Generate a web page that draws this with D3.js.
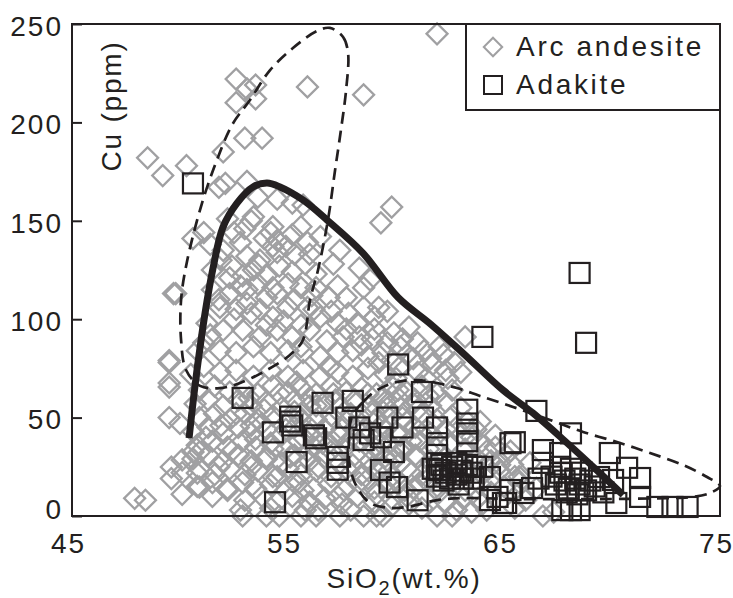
<!DOCTYPE html>
<html>
<head>
<meta charset="utf-8">
<script src="https://cdn.jsdelivr.net/npm/d3@7"></script>
<style>
  body { margin: 0; background: #fff; }
  text { font-family: "Liberation Sans", Arial, sans-serif; fill: #231f20; }
</style>
</head>
<body>
<div id="chart"></div>
<script>
// Axis ticks
const xTicks = [45, 55, 65, 75];
const yTicks = [0, 50, 100, 150, 200, 250];

// Arc andesite (SiO2, Cu)
const arcAndesite = [
  // sparse upper part
  [61.9,245],[52.6,222],[53.1,217],[53.5,219],[52.6,210],[53.5,212],[55.9,218],[58.5,214],
  [53.0,192],[53.8,192],[48.5,182],[49.2,173],[50.3,178],[52.0,185],[51.8,167],[52.1,169],
  [53.1,170],[53.6,162],[54.5,161],[55.2,159],[55.7,158],[53.3,150],[59.3,149],[59.8,157],
  [51.1,144],[50.6,141],[51.4,138],[52.5,144],[52.8,139],[53.4,152],[54.3,147],[54.2,144],
  [54.5,140],[54.3,137],[54.5,134],[55.6,147],[55.9,139],[56.5,142],[57.4,135],[58.3,126],
  [57.1,128],[53.1,132],[53.7,130],[53.4,125],[52.3,121],[51.9,130],[51.5,115],[52.3,113],
  [53.1,115],[53.6,118],[54.0,111],[54.5,113],[55.0,118],[55.6,116],[56.3,116],[56.9,111],
  [57.7,111],[58.5,116],[49.7,113],[58.8,120],[59.2,106],
  [51.5,125],[52.0,135],[52.4,127],[52.9,122],[53.6,128],[54.0,122],[54.6,127],[55.2,124],
  [55.8,128],[56.3,123],[55.3,133],[54.9,137],[53.9,141],[53.0,146],[52.2,151],[55.2,143],
  [56.0,133],[52.8,117],[54.3,116],[55.3,110],[56.1,112],[57.3,117],[51.8,110],
  // middle band
  [51.85,106],[52.6,105],[53.1,108],[53.7,105],[54.3,101],[55.0,106],[55.9,106],[56.5,101],
  [57.3,98],[58.2,98],[51.25,98],[52.0,94.5],[52.9,94.5],[53.7,91],[54.5,94.5],[55.2,91],
  [56.0,94.5],[56.8,89],[57.55,91],[58.3,91],[59.0,95],[59.6,88],[51.1,88],[51.85,84],
  [52.6,83],[53.4,86],[54.2,83],[55.0,84],[55.7,83],[56.5,81],[57.3,83],[58.0,84],
  [58.7,81],[59.4,83],[60.2,86],[60.8,80],[49.5,78],[49.5,67.6],[51.1,76],[51.85,73],
  [52.6,74],[53.4,71],[54.2,74],[55.0,71],[55.7,74],[56.5,71],[57.3,73],[58.0,71],
  [58.7,75],[59.5,72],[60.2,76],[61.0,73],[61.7,77],[62.3,74],[63.2,91],[62.0,86],
  [61.3,84],[59.0,101],[59.6,104],[60.3,90],[62.4,70],
  [52.5,100],[53.3,103],[54.0,97],[54.8,99],[55.6,97],[56.2,105],[57.0,104],[57.8,103],
  [58.5,106],[51.4,92],[50.8,84],[50.5,72],
  [59.8,79],[60.5,82],[61.0,88],[61.6,80],[62.2,82],[62.7,78],[63.0,73],[61.4,70],
  [60.0,70],[59.2,78],[58.4,87],[59.9,93],[60.6,96],[57.7,95],[58.9,90],
  // dense cloud
  [50.9,64],[51.6,66],[52.3,63],[53.0,65],[53.6,62],[54.3,66],[55.0,63],[55.6,65],[56.3,62],
  [57.0,66],[57.7,63],[58.4,65],[59.1,62],[59.8,66],[60.5,63],[61.2,66],[61.9,62],[62.6,64],
  [50.7,57],[51.3,59],[52.0,56],[52.7,59],[53.3,56],[54.0,58],[54.7,55],[55.3,59],[56.0,56],
  [56.7,58],[57.4,55],[58.1,59],[58.8,56],[59.5,58],[60.2,55],[60.9,59],[61.6,56],[62.3,58],[63.0,55],
  [50.9,50],[51.6,52],[52.3,49],[53.0,52],[53.6,49],[54.3,51],[55.0,48],[55.6,52],[56.3,49],
  [57.0,51],[57.7,48],[58.4,52],[59.1,49],[59.8,51],[60.5,48],[61.2,52],[61.9,49],[62.6,51],[63.3,48],
  [50.6,43],[51.3,45],[52.0,42],[52.7,45],[53.3,42],[54.0,44],[54.7,41],[55.3,45],[56.0,42],[56.7,44],
  [57.4,41],[58.1,45],[58.8,42],[59.5,44],[60.2,41],[60.9,45],[61.6,42],[62.3,44],[63.0,41],[63.7,44],
  [50.8,36],[51.5,38],[52.2,35],[52.9,38],[53.5,35],[54.2,37],[54.9,34],[55.5,38],[56.2,35],[56.9,37],
  [57.6,34],[58.3,38],[59.0,35],[59.7,37],[60.4,34],[61.1,38],[61.8,35],[62.5,37],[63.2,34],[63.9,37],[64.6,35],
  [50.6,29],[51.3,31],[52.0,28],[52.7,31],[53.3,28],[54.0,30],[54.7,27],[55.3,31],[56.0,28],[56.7,30],[57.4,27],
  [58.1,31],[58.8,28],[59.5,30],[60.2,27],[60.9,31],[61.6,28],[62.3,30],[63.0,27],[63.7,30],[64.4,28],[65.1,31],
  [50.1,22],[50.9,24],[51.6,21],[52.3,24],[53.0,21],[53.6,23],[54.3,20],[55.0,24],[55.6,21],[56.3,23],[57.0,20],[57.7,24],
  [58.4,21],[59.1,23],[59.8,20],[60.5,24],[61.2,21],[61.9,23],[62.6,20],[63.3,24],[64.0,21],[64.8,23],[65.5,20],
  [49.6,19],[50.8,15],[51.5,17],[52.2,14],[52.9,17],[53.5,14],[54.2,16],[54.9,13],[55.5,17],[56.2,14],[56.9,16],
  [57.6,13],[58.3,17],[59.0,14],[59.7,16],[60.4,13],[61.1,17],[61.8,14],[62.5,16],[63.2,13],[63.9,16],[65.7,17],
  [47.9,9],[48.4,8],[50.1,11],[51.5,10],[52.2,13],[53.0,8],[53.8,10],[54.5,7],[55.2,10],[56.0,7],
  [56.7,9],[57.5,6],[58.2,10],[59.0,7],[59.8,9],[60.6,6],[61.4,10],[62.3,7],[63.1,9],[64.0,6],
  [52.9,0],[54.0,0],[54.6,0],[55.6,0],[56.3,0],[57.4,0],[58.5,0],[59.1,0],[59.4,0],[61.9,0],
  [62.6,0],[66.8,0],[52.8,3],[55.8,3],[57.9,3],
  // left and right edges
  [49.6,24.9],[50.1,28.5],[50.6,32.5],[50.9,32.5],[50.8,21.8],[50.9,14.7],[49.5,50],[50.0,47],
  [49.5,65.5],[49.5,79],[49.8,113],
  [64.8,26],[65.3,33],[65.7,20],[66.2,27],[66.5,14],[67.3,2],[66.0,8],[64.4,12],[63.8,9],
  [62.8,45],[63.5,40],[64.2,33],[64.6,41],[63.9,48],[64.3,24],[65.0,15],[65.4,26],
  [62.8,3],[63.5,2],[64.2,3],[65.5,4],
  // extra density in the core
  [54.6,62],[55.3,53],[56.0,45],[56.6,37],[55.1,30],[56.4,25],[57.2,59],[57.9,52],[53.9,54],
  [53.3,46],[55.7,40],[57.0,33],[58.6,45],[59.3,37],[60.0,30],[60.7,22],[59.4,53],[60.1,60],
  [58.9,25],[61.5,34],[53.2,60],[54.0,29],[55.4,68],[56.9,76],[55.6,86],
  [58.7,62],[59.4,60],[60.1,64],[60.8,57],[61.5,61],[58.9,52],[59.6,55],[60.3,50],[61.0,54],
  [61.7,47],[58.6,40],[59.3,46],[60.0,42],[60.7,38],[61.4,44],[58.9,33],[59.6,28],[60.3,34],
  [61.0,30],[61.7,26],[58.7,19],[59.4,25],[60.1,18],[60.8,14],[61.5,19],[59.1,11],[59.8,5],
  [60.5,10],[61.2,4],[62.0,12],
  [52.6,52],[53.5,39],[51.9,46],[51.2,40],[52.4,33],[51.8,25],[53.3,25],[54.3,34],[55.9,33],
  [56.9,47],[57.8,38],[58.0,26],[57.3,10],[55.7,13],[54.2,4],[56.4,3],
  [54.9,44],[55.6,49],[56.3,56],[57.1,62],[53.8,47],[54.5,20],[55.3,17],[56.0,60],[57.5,44]
];

// Adakite (SiO2, Cu)
const adakite = [
  [50.6,169],[64.0,91],[60.1,77],[61.2,63],[56.6,57.5],[58.0,58.5],[63.3,54],[63.3,47],[63.3,42],
  [63.3,38],[57.7,50],[55.1,48],[55.1,50.5],[55.2,46],[56.2,41],[56.3,39.5],[61.25,50],[61.9,45],
  [59.6,50],[60.3,45],[58.3,45],[58.8,42],[59.3,40],[58.5,38.6],[59.9,32.5],[61.9,37],[61.9,31],
  [57.3,30],[57.3,27],[57.3,23.5],[55.4,27.4],[59.3,23.4],[59.7,17],[60.05,14.7],[61.0,8],[62.0,23.4],
  [52.9,60],[54.3,42.5],[54.4,7],[68.5,123.5],[68.8,88],[66.5,53.4],[65.5,37.5],[68.1,42],[66.8,33.5],
  [67.6,32],[69.9,32],[70.7,24.5],[71.3,19.3],[66.8,27],[67.6,25],[69.4,19.8],[70.05,18.3],[66.3,14.2],
  [65.9,11.7],[71.3,9.7],[72.1,4.6],[72.8,4.6],[73.5,4.6],[68.5,3],[68.1,3],[70.2,6.6],[65.3,13.2],
  [64.0,25],[64.35,19.8],[64.7,9.7],[65.1,6.6],[65.3,37],[62.8,27],[64.35,8.1],[64.95,6.6],[67.7,3],
  [61.7,24],[61.9,20],[62.1,26],[62.3,22],[62.5,19],[62.6,25],[62.8,21],[63.0,23],[63.1,19],[63.3,26],
  [63.5,22],[63.6,19],[63.7,25],[62.2,18],[62.9,16],
  [67.2,20],[67.4,16],[67.6,22],[67.8,18],[68.0,14],[68.1,24],[68.3,19],[68.5,16],[68.6,22],[68.8,13],
  [69.0,18],[69.2,15],[67.9,12],[68.4,11],[66.6,19],[69.6,12]
];

// Thick curve
const thickCurve = [
  [50.42,39.6],[50.6,57.4],[50.83,77.7],[51.16,103.1],[51.53,126],[51.99,146.8],[52.64,159],
  [53.38,167.2],[54.03,169.2],[54.63,167.2],[55.69,160.6],[56.81,150.4],[58.47,133.6],
  [60.1,111],[61.6,97.5],[63.1,82.8],[64.95,64],[66.34,52.3],[67.92,37.1],[69.44,21.8],[70.51,10.7]
];

// Dashed field outlines
const dashedUpper = [
  [56.94,248],[57.55,243.4],[57.78,235.3],[57.69,216.5],[57.45,196.1],[57.18,175.8],[56.85,150.4],
  [56.39,125],[56.02,109.8],[55.69,89.4],[55.09,81.8],[54.03,74.2],[52.78,67.6],[51.85,65],
  [50.93,66.1],[50.28,74.2],[50.05,89.4],[50.05,109.8],[50.32,129.1],[51.02,159],[51.71,180.9],
  [52.41,198.7],[53.24,211.4],[54.17,226.6],[55.23,237.8],[56.34,246.4]
];
const dashedLower = [
  [57.96,50.3],[58.47,57.9],[59.12,64],[60.05,68.1],[60.97,69.1],[61.9,67.6],[62.82,65],[63.89,61],
  [65.42,55.4],[67.13,48.8],[68.66,42.7],[70.23,37.6],[71.76,32],[73.29,25.9],[74.4,19.8],[75,15.2],
  [74.54,11.7],[73.75,9.7],[72.55,9.1],[69.44,8.6],[65.74,8.6],[63.1,9.1],[61.9,8.1],[60.51,4.6],
  [59.72,4.1],[58.8,6.6],[58.19,14.7],[57.87,24.9],[57.82,38.6]
];

const W = 733, H = 598;
const x0 = 72, x1 = 720, y0 = 24, y1 = 516;
const ink = '#231f20';
const gray = '#a0a0a2';

const svg = d3.select('#chart')
  .append('svg')
  .attr('width', W)
  .attr('height', H);

const xScale = d3.scaleLinear().domain([45, 75]).range([x0, x1]);
const yScale = d3.scaleLinear().domain([0, 250]).range([y1, y0]);

// Points: diamonds
svg.append('g')
  .selectAll('path')
  .data(arcAndesite)
  .enter()
  .append('path')
  .attr('d', d3.symbol().type(d3.symbolSquare).size(220))
  .attr('transform', d => `translate(${xScale(d[0])},${yScale(d[1])}) rotate(45)`)
  .attr('fill', 'none')
  .attr('stroke', gray)
  .attr('stroke-width', 2.3);

// Points: squares
svg.append('g')
  .selectAll('rect')
  .data(adakite)
  .enter()
  .append('rect')
  .attr('x', d => xScale(d[0]) - 10)
  .attr('y', d => yScale(d[1]) - 10)
  .attr('width', 20)
  .attr('height', 20)
  .attr('fill', 'none')
  .attr('stroke', ink)
  .attr('stroke-width', 2.2);

// Dashed outlines
const closedLine = d3.line()
  .x(d => xScale(d[0]))
  .y(d => yScale(d[1]))
  .curve(d3.curveCatmullRomClosed);

[dashedUpper, dashedLower].forEach(pts => {
  svg.append('path')
    .attr('d', closedLine(pts))
    .attr('fill', 'none')
    .attr('stroke', ink)
    .attr('stroke-width', 2.7)
    .attr('stroke-dasharray', '12,7');
});

// Thick line
svg.append('path')
  .attr('d', d3.line()
    .x(d => xScale(d[0]))
    .y(d => yScale(d[1]))
    .curve(d3.curveCatmullRom)(thickCurve))
  .attr('fill', 'none')
  .attr('stroke', ink)
  .attr('stroke-width', 7);

// Frame
svg.append('rect')
  .attr('x', x0)
  .attr('y', y0)
  .attr('width', x1 - x0)
  .attr('height', y1 - y0)
  .attr('fill', 'none')
  .attr('stroke', ink)
  .attr('stroke-width', 2);

// Y axis
const yAxis = svg.append('g')
  .attr('transform', `translate(${x0},0)`)
  .call(d3.axisLeft(yScale).tickValues(yTicks).tickSize(-10).tickPadding(9));
yAxis.select('.domain').remove();
yAxis.selectAll('line').attr('stroke', ink).attr('stroke-width', 2);
yAxis.selectAll('text')
  .style('font-size', '28px')
  .style('letter-spacing', '2px')
  .attr('fill', ink)
  .attr('dy', d => d === 0 ? '0.1em' : '0.4em');

// X axis
const xAxis = svg.append('g')
  .attr('transform', `translate(0,${y1})`)
  .call(d3.axisBottom(xScale).tickValues(xTicks).tickSize(0).tickPadding(17));
xAxis.select('.domain').remove();
xAxis.selectAll('text')
  .style('font-size', '28px')
  .style('letter-spacing', '2px')
  .attr('fill', ink)
  .attr('dx', -4);

// Axis titles
svg.append('text')
  .attr('transform', 'translate(121,106) rotate(-90)')
  .attr('text-anchor', 'middle')
  .style('font-size', '28px')
  .style('letter-spacing', '1.8px')
  .text('Cu (ppm)');

const xTitle = svg.append('text')
  .attr('x', 404)
  .attr('y', 588)
  .attr('text-anchor', 'middle')
  .style('font-size', '28px')
  .style('letter-spacing', '1.8px');
xTitle.append('tspan').text('SiO');
xTitle.append('tspan').attr('dy', 7).style('font-size', '20px').text('2');
xTitle.append('tspan').attr('dy', -7).text('(wt.%)');

// Legend
const legend = svg.append('g');
legend.append('rect')
  .attr('x', 466)
  .attr('y', y0)
  .attr('width', x1 - 466)
  .attr('height', 86)
  .attr('fill', '#fff')
  .attr('stroke', ink)
  .attr('stroke-width', 2);
legend.append('path')
  .attr('d', d3.symbol().type(d3.symbolSquare).size(170))
  .attr('transform', 'translate(493,47) rotate(45)')
  .attr('fill', 'none')
  .attr('stroke', gray)
  .attr('stroke-width', 2);
legend.append('rect')
  .attr('x', 484).attr('y', 76)
  .attr('width', 18).attr('height', 18)
  .attr('fill', 'none')
  .attr('stroke', ink)
  .attr('stroke-width', 2);
legend.append('text')
  .attr('x', 516).attr('y', 56)
  .style('font-size', '28px')
  .style('letter-spacing', '2.7px')
  .text('Arc andesite');
legend.append('text')
  .attr('x', 516).attr('y', 94)
  .style('font-size', '28px')
  .style('letter-spacing', '2.7px')
  .text('Adakite');
</script>
</body>
</html>
